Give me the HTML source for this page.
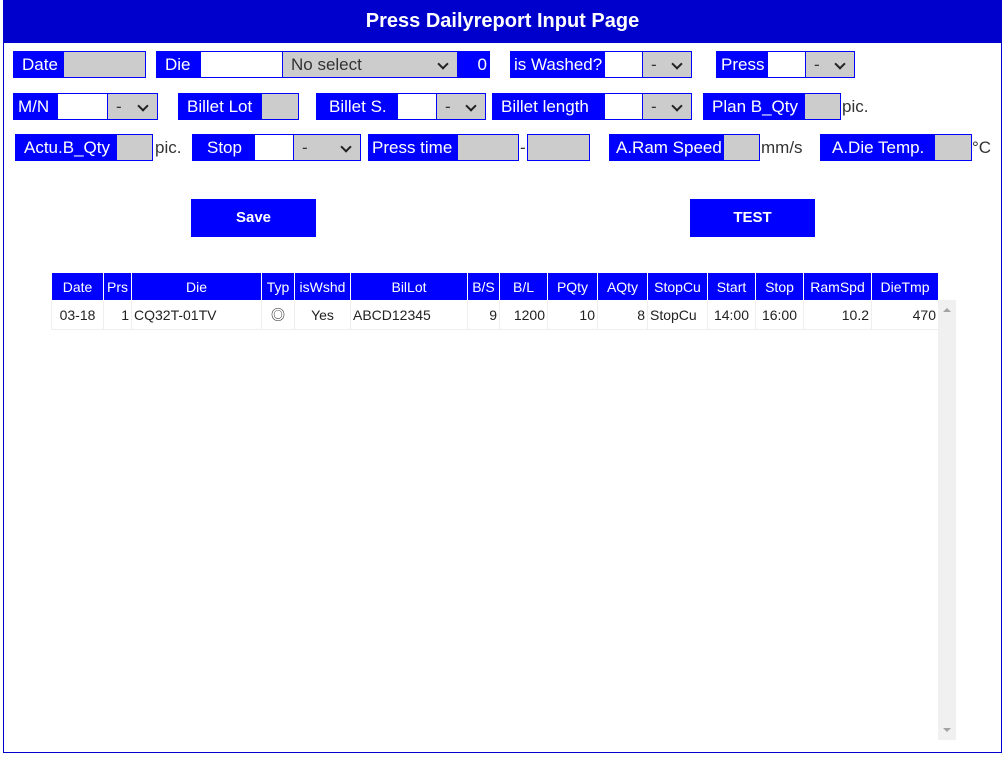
<!DOCTYPE html>
<html><head><meta charset="utf-8"><style>
*{box-sizing:border-box;margin:0;padding:0}
body{width:1002px;height:764px;background:#fff;font-family:"Liberation Sans","Noto Sans CJK JP",sans-serif;position:relative;overflow:hidden}
.a{position:absolute}
.frame{left:3px;top:0;width:999px;height:753px;border:1px solid #0000cc;border-top:none}
.title{left:3px;top:0;width:999px;height:43px;background:#0000cc;color:#fff;font-weight:bold;font-size:20px;text-align:center;line-height:43px}
.l{background:#0000ff;color:#fff;font-size:17px;line-height:25px;height:27px;border:1px solid #0000ff;padding-left:8px;white-space:nowrap}
.g{background:#cccccc;height:27px;border:1px solid #0000ff}
.w{background:#fff;height:27px;border:1px solid #0000ff}
.s{background:#cccccc;height:27px;border:1px solid #0000ff;font-size:17px;color:#333;line-height:25px;padding-left:8px}
.s::after{content:"";position:absolute;right:10px;top:8px;width:6px;height:6px;border-right:2px solid #222;border-bottom:2px solid #222;transform:rotate(45deg)}
.t{font-size:17px;color:#333;line-height:27px}
.btn{background:#0000ff;color:#fff;font-weight:bold;font-size:15px;text-align:center;line-height:38px;height:38px;width:125px}
table{position:absolute;left:51px;top:272px;border-collapse:collapse;font-size:14px;font-family:"Liberation Sans","Noto Sans CJK JP",sans-serif}
th{background:#0000ff;color:#fff;font-weight:normal;height:28px;border:1px solid #fff;padding:0 2px}
td{height:29px;border:1px solid #eee;color:#222;padding:0 2px}
</style></head><body>
<div class="a frame"></div>
<div class="a title">Press Dailyreport Input Page</div>

<div class="a l" style="left:13px;top:51px;width:51px">Date</div><div class="a g" style="left:63px;top:51px;width:83px"></div>
<div class="a l" style="left:156px;top:51px;width:45px">Die</div><div class="a w" style="left:200px;top:51px;width:83px"></div>
<div class="a s" style="left:282px;top:51px;width:176px">No select</div>
<div class="a l" style="left:457px;top:51px;width:33px;text-align:right;padding-right:2px">0</div>
<div class="a l" style="left:510px;top:51px;width:95px;padding-left:3px">is Washed?</div><div class="a w" style="left:604px;top:51px;width:39px"></div><div class="a s" style="left:642px;top:51px;width:50px">-</div>
<div class="a l" style="left:716px;top:51px;width:52px;padding-left:4px">Press</div><div class="a w" style="left:767px;top:51px;width:39px"></div><div class="a s" style="left:805px;top:51px;width:50px">-</div>

<div class="a l" style="left:13px;top:93px;width:45px;padding-left:4px">M/N</div><div class="a w" style="left:57px;top:93px;width:51px"></div><div class="a s" style="left:107px;top:93px;width:51px">-</div>
<div class="a l" style="left:178px;top:93px;width:84px">Billet Lot</div><div class="a g" style="left:261px;top:93px;width:38px"></div>
<div class="a l" style="left:316px;top:93px;width:82px;padding-left:12px">Billet S.</div><div class="a w" style="left:397px;top:93px;width:40px"></div><div class="a s" style="left:436px;top:93px;width:50px">-</div>
<div class="a l" style="left:492px;top:93px;width:113px">Billet length</div><div class="a w" style="left:604px;top:93px;width:39px"></div><div class="a s" style="left:642px;top:93px;width:50px">-</div>
<div class="a l" style="left:703px;top:93px;width:102px">Plan B_Qty</div><div class="a g" style="left:804px;top:93px;width:37px"></div><div class="a t" style="left:842px;top:93px">pic.</div>

<div class="a l" style="left:15px;top:134px;width:102px">Actu.B_Qty</div><div class="a g" style="left:116px;top:134px;width:37px"></div><div class="a t" style="left:155px;top:134px">pic.</div>
<div class="a l" style="left:192px;top:134px;width:63px;padding-left:14px">Stop</div><div class="a w" style="left:254px;top:134px;width:40px"></div><div class="a s" style="left:293px;top:134px;width:68px">-</div>
<div class="a l" style="left:368px;top:134px;width:90px;padding-left:3px">Press time</div><div class="a g" style="left:457px;top:134px;width:62px"></div><div class="a t" style="left:520px;top:134px">-</div><div class="a g" style="left:527px;top:134px;width:63px"></div>
<div class="a l" style="left:609px;top:134px;width:115px;padding-left:6px">A.Ram Speed</div><div class="a g" style="left:723px;top:134px;width:37px"></div><div class="a t" style="left:761px;top:134px">mm/s</div>
<div class="a l" style="left:820px;top:134px;width:115px;padding-left:11px">A.Die Temp.</div><div class="a g" style="left:934px;top:134px;width:38px"></div><div class="a t" style="left:972px;top:134px">°C</div>

<div class="a btn" style="left:191px;top:199px">Save</div>
<div class="a btn" style="left:690px;top:199px">TEST</div>

<table>
<tr><th style="width:52px">Date</th><th style="width:28px">Prs</th><th style="width:130px">Die</th><th style="width:33px">Typ</th><th style="width:56px">isWshd</th><th style="width:117px">BilLot</th><th style="width:32px">B/S</th><th style="width:48px">B/L</th><th style="width:50px">PQty</th><th style="width:50px">AQty</th><th style="width:60px">StopCu</th><th style="width:48px">Start</th><th style="width:48px">Stop</th><th style="width:68px">RamSpd</th><th style="width:67px">DieTmp</th></tr>
<tr><td style="text-align:center">03-18</td><td style="text-align:right">1</td><td>CQ32T-01TV</td><td style="text-align:center">◎</td><td style="text-align:center">Yes</td><td>ABCD12345</td><td style="text-align:right">9</td><td style="text-align:right">1200</td><td style="text-align:right">10</td><td style="text-align:right">8</td><td>StopCu</td><td style="text-align:center">14:00</td><td style="text-align:center">16:00</td><td style="text-align:right">10.2</td><td style="text-align:right">470</td></tr>
</table>
<div class="a" style="left:938px;top:300px;width:18px;height:440px;background:#f0f0f0"></div>
<div class="a" style="left:943px;top:308px;width:0;height:0;border-left:4px solid transparent;border-right:4px solid transparent;border-bottom:4px solid #a3a3a3"></div>
<div class="a" style="left:943px;top:728px;width:0;height:0;border-left:4px solid transparent;border-right:4px solid transparent;border-top:4px solid #a3a3a3"></div>
</body></html>
